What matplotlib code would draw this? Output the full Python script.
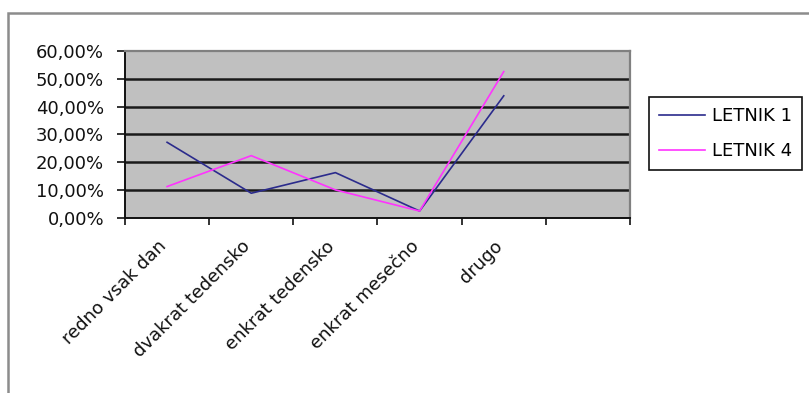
import matplotlib
matplotlib.use('Agg')
import numpy as np
import matplotlib.pyplot as plt
from matplotlib.patches import Rectangle
from matplotlib.ticker import FuncFormatter, FixedLocator

# share of answers per frequency group
categories = ['redno vsak dan', 'dvakrat tedensko', 'enkrat tedensko',
              'enkrat mesečno', 'drugo']
letnik_1 = [0.272, 0.089, 0.163, 0.025, 0.439]
letnik_4 = [0.113, 0.224, 0.101, 0.025, 0.526]
series_names = ['LETNIK 1', 'LETNIK 4']

# one spare (empty) category slot on the right
n_slots = len(categories) + 1

plt.rcParams['font.family'] = ['DejaVu Sans']

fig = plt.figure(figsize=(8.09, 3.93), dpi=100)
W, H = 809, 393
ax = fig.add_axes([125 / W, 1 - 218 / H, 505 / W, 167 / H])

# chart border around the whole figure
fig.patches.append(Rectangle((8 / W, -0.5), 2, 1.5 - 13 / H,
                             transform=fig.transFigure, fill=False,
                             edgecolor='#8c8c8c', linewidth=1.8))

ax.set_facecolor('#c0c0c0')
x = np.arange(len(categories))
ax.plot(x, letnik_1, color='#2b2b8c', linewidth=1.2, label=series_names[0])
ax.plot(x, letnik_4, color='#ff33ff', linewidth=1.2, label=series_names[1])

ax.set_xlim(-0.5, n_slots - 0.5)
ax.set_ylim(0, 0.6)

yticks = np.arange(0, 0.61, 0.1)
ax.set_yticks(yticks)
ax.yaxis.set_major_formatter(FuncFormatter(
    lambda v, _: '{:.2f}%'.format(v * 100).replace('.', ',')))
for y in yticks[1:-1]:
    ax.axhline(y, color='#1a1a1a', linewidth=1.8, zorder=1)

ax.set_xticks(x)
ax.set_xticklabels(categories, rotation=45, ha='right', va='baseline',
                   rotation_mode='anchor')
ax.xaxis.set_minor_locator(FixedLocator(np.arange(n_slots + 1) - 0.5))
ax.tick_params(axis='x', which='major', length=0, pad=21, labelsize=13,
               labelcolor='#111111')
ax.tick_params(axis='x', which='minor', length=5, width=1.2,
               direction='out', color='#111111')
ax.tick_params(axis='y', length=6, width=1.2, direction='out', pad=9,
               labelsize=13, labelcolor='#111111', color='#111111')

for side in ('left', 'bottom'):
    ax.spines[side].set_color('#111111')
    ax.spines[side].set_linewidth(1.4)
for side in ('top', 'right'):
    ax.spines[side].set_color('#808080')
    ax.spines[side].set_linewidth(1.6)

leg = ax.legend(loc='upper left', bbox_to_anchor=(649 / W, 1 - 97 / H),
                bbox_transform=fig.transFigure, borderaxespad=0,
                fontsize=13, handlelength=2.55, handletextpad=0.4,
                labelspacing=0.95, borderpad=0.55, fancybox=False,
                framealpha=1)
leg.get_frame().set_edgecolor('#111111')
leg.get_frame().set_linewidth(1.2)

fig.savefig('out.png', dpi=100)
